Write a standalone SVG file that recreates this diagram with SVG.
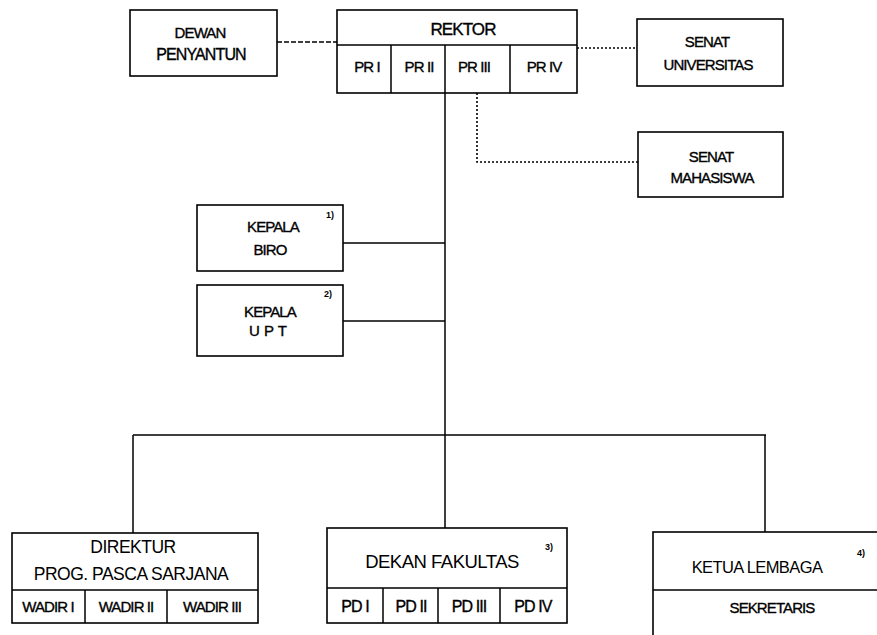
<svg xmlns="http://www.w3.org/2000/svg" width="877" height="635" viewBox="0 0 877 635">
<style>
.box{fill:#fff;stroke:#000;stroke-width:1.6}
.ln{fill:none;stroke:#000;stroke-width:1.5}
.dot{fill:none;stroke:#000;stroke-width:1.6;stroke-dasharray:2 2}
.dash{fill:none;stroke:#000;stroke-width:1.6;stroke-dasharray:5 2}
text{font-family:"Liberation Sans",Arial,sans-serif;fill:#000;text-anchor:middle}
.s{font-size:15px;letter-spacing:-0.9px;stroke:#000;stroke-width:0.35}
.m{font-size:17.5px;letter-spacing:-0.5px}
.l{font-size:18.5px;letter-spacing:-0.5px}
.k{font-size:16.5px;letter-spacing:-0.6px}
.sup{font-size:9px;font-weight:bold}
</style>
<rect width="877" height="635" fill="#fff"/>
<g id="connectors">
<path class="dash" d="M277 42H337"/>
<path class="dot" d="M577 48H637"/>
<path class="dot" d="M477 93V162H638"/>
<path class="ln" d="M445 93V435"/>
<path class="ln" d="M343 243H445"/>
<path class="ln" d="M343 321H445"/>
<path class="ln" d="M133 435H766"/>
<path class="ln" d="M133 435V533"/>
<path class="ln" d="M445 435V528"/>
<path class="ln" d="M765 435V532"/>
</g>
<g id="dewan">
<rect class="box" x="130" y="10" width="147" height="66"/>
<text class="s" x="200" y="38">DEWAN</text>
<text class="s" x="201" y="60" style="font-size:16px">PENYANTUN</text>
</g>
<g id="rektor">
<rect class="box" x="337" y="10" width="240" height="83"/>
<path class="ln" d="M337 45H577M391 45V93M445 45V93M510 45V93"/>
<text class="s" x="463" y="35" style="font-size:17px">REKTOR</text>
<text class="s" x="367" y="72">PR I</text>
<text class="s" x="419" y="72">PR II</text>
<text class="s" x="474" y="72">PR III</text>
<text class="s" x="544" y="72">PR IV</text>
</g>
<g id="senat-univ">
<rect class="box" x="637" y="19" width="146" height="67"/>
<text class="s" x="707" y="47">SENAT</text>
<text class="s" x="708" y="70">UNIVERSITAS</text>
</g>
<g id="senat-mhs">
<rect class="box" x="638" y="132" width="145" height="65"/>
<text class="s" x="711" y="162">SENAT</text>
<text class="s" x="712" y="183">MAHASISWA</text>
</g>
<g id="kepala-biro">
<rect class="box" x="197" y="205" width="146" height="66"/>
<text class="s" x="273" y="232">KEPALA</text>
<text class="s" x="270" y="255">BIRO</text>
<text class="sup" x="330" y="218">1)</text>
</g>
<g id="kepala-upt">
<rect class="box" x="197" y="285" width="146" height="71"/>
<text class="s" x="270" y="317">KEPALA</text>
<text class="s" x="268" y="336" style="letter-spacing:0px">U P T</text>
<text class="sup" x="328" y="297">2)</text>
</g>
<g id="direktur">
<rect class="box" x="12" y="533" width="246" height="90"/>
<path class="ln" d="M12 590H258M85 590V623M167 590V623"/>
<text class="m" x="133" y="553">DIREKTUR</text>
<text class="m" x="131" y="580">PROG. PASCA SARJANA</text>
<text class="s" x="48" y="612">WADIR I</text>
<text class="s" x="126" y="612">WADIR II</text>
<text class="s" x="212" y="612">WADIR III</text>
</g>
<g id="dekan">
<rect class="box" x="327" y="528" width="240" height="95"/>
<path class="ln" d="M327 588H567M383 588V623M438 588V623M500 588V623"/>
<text class="l" x="442" y="568">DEKAN FAKULTAS</text>
<text class="sup" x="549" y="550">3)</text>
<text class="s" x="355" y="612" style="font-size:16px">PD I</text>
<text class="s" x="411" y="612" style="font-size:16px">PD II</text>
<text class="s" x="469" y="612" style="font-size:16px">PD III</text>
<text class="s" x="533" y="612" style="font-size:16px">PD IV</text>
</g>
<g id="ketua">
<rect class="box" x="653" y="532" width="240" height="120"/>
<path class="ln" d="M653 590H877"/>
<text class="k" x="757" y="573">KETUA LEMBAGA</text>
<text class="sup" x="861" y="556">4)</text>
<text class="s" x="772" y="613">SEKRETARIS</text>
</g>
</svg>
